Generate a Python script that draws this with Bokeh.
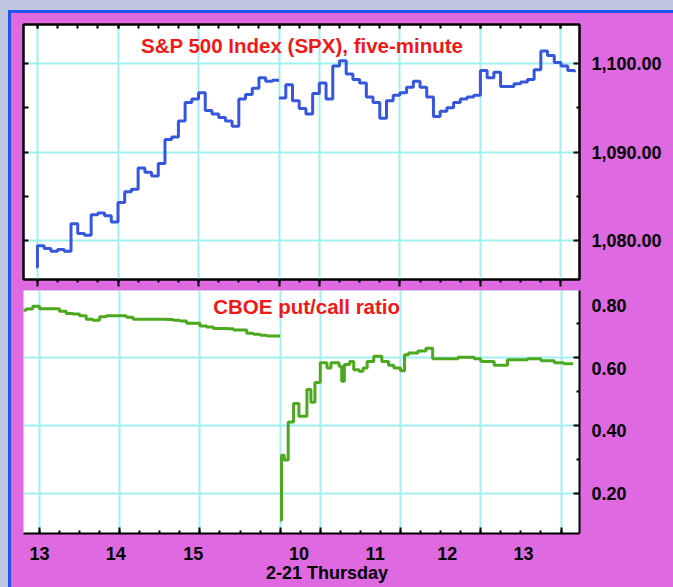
from bokeh.plotting import figure
from bokeh.layouts import column
from bokeh.models import Range1d, LinearAxis, FixedTicker, Grid, NumeralTickFormatter, Label
from bokeh.embed import file_html
from bokeh.resources import INLINE

# ---------------- data ----------------
DAY2_SHIFT = 390  # 16:00 of day 1 meets 9:30 of day 2 on the time axis

def five_min(start, n):
    h, m = map(int, start.split(":"))
    t0 = h * 60 + m
    return [f"{(t0 + 5 * i) // 60}:{(t0 + 5 * i) % 60:02d}" for i in range(n)]

spx_day1_times = ["12:59"] + five_min("13:00", 37)
spx_day1 = [1077.0,
            1079.4, 1079.1, 1078.8, 1079.0, 1078.8, 1081.9, 1080.8, 1080.6, 1082.9, 1083.1, 1082.8, 1082.1,
            1084.3, 1085.5, 1085.8, 1088.2, 1087.7, 1087.3, 1088.7, 1091.4, 1091.7, 1093.5, 1095.6, 1096.0,
            1096.7, 1094.7, 1094.3, 1093.9, 1093.5, 1092.9, 1096.0, 1096.5, 1097.2, 1098.4, 1098.0, 1098.1,
            1098.1]
spx_day2_times = five_min("9:30", 45)
spx_day2 = [1096.1, 1097.6, 1095.8, 1094.9, 1094.3, 1096.6,
            1097.8, 1096.0, 1099.7, 1100.3, 1098.8, 1098.2, 1097.8, 1096.2, 1095.6, 1093.8, 1095.8, 1096.4,
            1096.7, 1097.3, 1098.0, 1097.3, 1096.2, 1094.0, 1094.6, 1095.0, 1095.6, 1096.0, 1096.2, 1096.4,
            1099.2, 1098.4, 1099.0, 1097.4, 1097.4, 1097.7, 1097.9, 1098.2, 1099.3, 1101.4, 1100.9, 1100.1,
            1099.7, 1099.2, 1099.0]

pc_day1_times = five_min("12:45", 40)
pc_day1 = [0.738, 0.742, 0.750, 0.743, 0.743, 0.743, 0.735, 0.729, 0.727, 0.722, 0.712, 0.709,
           0.719, 0.722, 0.722, 0.722, 0.718, 0.712, 0.712, 0.712, 0.712, 0.712, 0.711, 0.709,
           0.707, 0.700, 0.700, 0.692, 0.689, 0.685, 0.685, 0.684, 0.680, 0.680, 0.671, 0.668,
           0.665, 0.663, 0.663, 0.663]
pc_day2_times = ["9:30", "9:31", "9:33", "9:36", "9:40", "9:44", "9:50", "9:53", "9:56",
                 "10:00", "10:05", "10:08", "10:14", "10:16", "10:18", "10:22", "10:25", "10:29",
                 "10:32", "10:35", "10:40", "10:46", "10:51", "10:55",
                 "11:00", "11:03", "11:06", "11:13", "11:19", "11:24", "11:43", "11:55",
                 "12:00", "12:10", "12:20", "12:35", "12:45", "12:55", "13:02", "13:09"]
pc_day2 = [0.122, 0.313, 0.299, 0.410, 0.465, 0.427, 0.506, 0.468, 0.526,
           0.584, 0.569, 0.584, 0.574, 0.530, 0.579, 0.588, 0.564, 0.559,
           0.569, 0.588, 0.603, 0.588, 0.577, 0.569,
           0.561, 0.608, 0.613, 0.619, 0.627, 0.596, 0.600, 0.596,
           0.588, 0.577, 0.593, 0.596, 0.590, 0.584, 0.581, 0.581]

hour_lines = [("13:00", 1), ("14:00", 1), ("15:00", 1), ("16:00", 1),
              ("10:00", 2), ("11:00", 2), ("12:00", 2), ("13:00", 2)]
x_tick_labels = ["13", "14", "15", "10", "11", "12", "13"]
x_label_times = [("13:00", 1), ("13:57", 1), ("14:55", 1),
                 ("9:44", 2), ("10:41", 2), ("11:35", 2), ("12:32", 2)]
date_label = "2-21 Thursday"
date_label_time = ("10:05", 2)
spx_ticks = [1080, 1090, 1100]
spx_minor = [1085, 1095]
pc_ticks = [0.2, 0.4, 0.6, 0.8]
pc_minor = [0.3, 0.5, 0.7]
spx_title = "S&P 500 Index (SPX), five-minute"
pc_title = "CBOE put/call ratio"

# ---------------- styling ----------------
MAG = "#DF69E0"
SPX_COLOR = "#3657DD"
PC_COLOR = "#4CA81E"
GRID_COLOR = "#A0F0F0"
RED = "#F01818"
FRAME_BLUE = "#1F55EE"
LAVENDER = "#C3C6E1"
FONT = "Liberation Sans"


def tmin(s, day):
    h, m = s.split(":")
    return int(h) * 60 + int(m) + (DAY2_SHIFT if day == 2 else 0)


major_x = [tmin(s, d) for s, d in hour_lines]
minor_x = list(range(tmin("13:00", 1), tmin("13:00", 2) + 1, 15))


def tick_axis(major, minor, tin, tout, mtin, mtout, **kw):
    # tick marks only: labels are not drawn (no colour)
    return LinearAxis(ticker=FixedTicker(ticks=major, minor_ticks=minor),
                      major_tick_in=tin, major_tick_out=tout,
                      minor_tick_in=mtin, minor_tick_out=mtout,
                      major_tick_line_color="black", major_tick_line_width=2,
                      minor_tick_line_color="black", minor_tick_line_width=2,
                      axis_line_color="black", axis_line_width=2,
                      major_label_text_color=None, major_label_text_font_size="1px",
                      major_label_standoff=0, **kw)


def label_axis(ticks, standoff, **kw):
    return LinearAxis(ticker=FixedTicker(ticks=ticks),
                      major_tick_line_color=None, minor_tick_line_color=None, axis_line_color=None,
                      major_tick_in=0, major_tick_out=0, minor_tick_in=0, minor_tick_out=0,
                      major_label_standoff=standoff, major_label_text_font=FONT,
                      major_label_text_font_style="bold", major_label_text_font_size="18px",
                      major_label_text_color="black", **kw)


def base_fig(xr, yr, h, left, top, bottom):
    p = figure(width=662, height=h, x_range=xr, y_range=yr,
               output_backend="svg", toolbar_location=None,
               x_axis_location=None, y_axis_location=None,
               min_border_left=left, min_border_right=94, min_border_top=top, min_border_bottom=bottom,
               background_fill_color="white", border_fill_color=MAG)
    p.center = []
    return p


# ---------------- top panel: SPX ----------------
p1 = base_fig(Range1d(769.6, 1183.8), Range1d(1075.6, 1104.4), 274, 12, 11, 8)
p1.outline_line_color = "black"
p1.outline_line_width = 2
p1.add_layout(Grid(dimension=0, ticker=FixedTicker(ticks=major_x), grid_line_color=GRID_COLOR, grid_line_width=2))
p1.add_layout(Grid(dimension=1, ticker=FixedTicker(ticks=spx_ticks), grid_line_color=GRID_COLOR, grid_line_width=2))

p1.add_layout(tick_axis(major_x, minor_x, 4, 0, 4, 0), "above")
p1.add_layout(tick_axis(major_x, minor_x, 0, 7, 0, 3), "below")
p1.add_layout(tick_axis(spx_ticks, spx_minor, 5, 0, 5, 0), "left")
ax = LinearAxis(ticker=FixedTicker(ticks=spx_ticks, minor_ticks=spx_minor),
                formatter=NumeralTickFormatter(format="0,0.00"),
                major_tick_in=6, major_tick_out=0, minor_tick_in=3, minor_tick_out=0,
                major_tick_line_color="black", major_tick_line_width=2,
                minor_tick_line_color="black", minor_tick_line_width=2,
                axis_line_color="black", axis_line_width=2,
                major_label_standoff=12, major_label_text_font=FONT,
                major_label_text_font_style="bold", major_label_text_font_size="18px",
                major_label_text_color="black")
p1.add_layout(ax, "right")

p1.step([tmin(s, 1) for s in spx_day1_times], spx_day1, mode="after", line_color=SPX_COLOR, line_width=3)
p1.step([tmin(s, 2) for s in spx_day2_times], spx_day2, mode="after", line_color=SPX_COLOR, line_width=3)
p1.add_layout(Label(x=977.2, y=1102.0, text=spx_title, text_align="center", text_baseline="middle",
                    text_font=FONT, text_font_style="bold", text_font_size="20.5px", text_color=RED))

# ---------------- bottom panel: put/call ----------------
p2 = base_fig(Range1d(768.1, 1183.8), Range1d(0.0832, 0.7962), 300, 10, 3, 54)
p2.outline_line_color = None
p2.extra_y_ranges = {"lab": Range1d(0.0736, 0.8472)}
p2.add_layout(Grid(dimension=0, ticker=FixedTicker(ticks=major_x), grid_line_color=GRID_COLOR, grid_line_width=2))
p2.add_layout(Grid(dimension=1, ticker=FixedTicker(ticks=pc_ticks), grid_line_color=GRID_COLOR, grid_line_width=2))

p2.add_layout(tick_axis(major_x, minor_x, 6, 0, 3, 0), "below")
x_lab_pos = [tmin(s, d) for s, d in x_label_times]
p2.add_layout(label_axis(x_lab_pos, 13,
                         major_label_overrides={t: lab for t, lab in zip(x_lab_pos, x_tick_labels)}), "below")
d_pos = tmin(*date_label_time)
p2.add_layout(label_axis([d_pos], 0, major_label_overrides={d_pos: date_label}), "below")
p2.add_layout(tick_axis(pc_ticks, pc_minor, 6, 0, 3, 0), "right")
p2.add_layout(label_axis(pc_ticks, 12, y_range_name="lab",
                         formatter=NumeralTickFormatter(format="0.00")), "right")

p2.step([tmin(s, 1) for s in pc_day1_times], pc_day1, mode="after", line_color=PC_COLOR, line_width=3)
p2.step([tmin(s, 2) for s in pc_day2_times], pc_day2, mode="after", line_color=PC_COLOR, line_width=3)
p2.add_layout(Label(x=979.8, y=0.7478, text=pc_title, text_align="center", text_baseline="middle",
                    text_font=FONT, text_font_style="bold", text_font_size="20.5px", text_color=RED))

layout = column(p1, p2, styles={"border-top": f"3px solid {FRAME_BLUE}",
                                "border-left": f"3px solid {FRAME_BLUE}",
                                "background-color": MAG,
                                "margin-top": "10px", "margin-left": "8px"})

html = file_html(layout, INLINE, title="SPX and CBOE put/call ratio")
html = html.replace("<head>",
                    "<head><style>html,body{margin:0;padding:0;background:%s;overflow:hidden;}</style>"
                    % LAVENDER, 1)
open("out.html", "w").write(html)
